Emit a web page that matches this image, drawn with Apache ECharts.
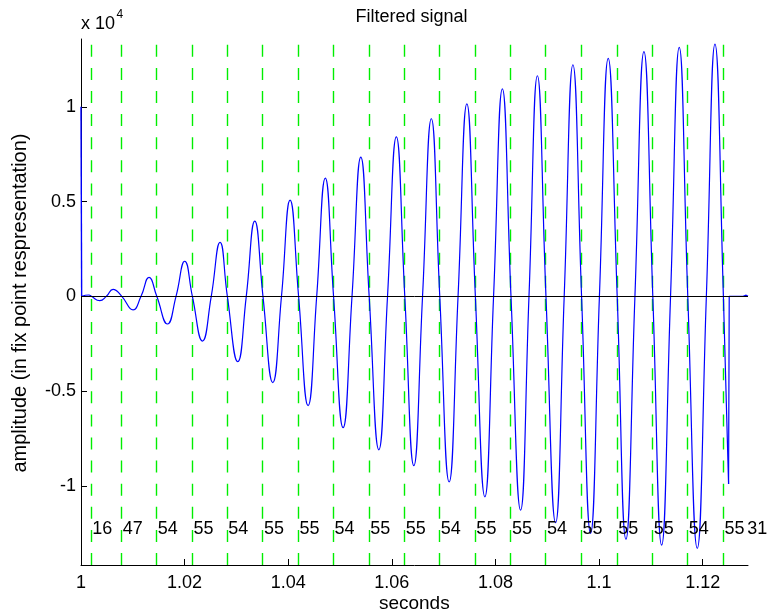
<!DOCTYPE html>
<html><head><meta charset="utf-8">
<script src="https://cdn.jsdelivr.net/npm/echarts@6/dist/echarts.min.js"></script>
<style>html,body{margin:0;padding:0;background:#fff}#c{width:770px;height:614px}</style>
</head><body><div id="c"></div>
<script>
// filtered signal: extrema and zero crossings (seconds, raw amplitude)
const waveT = [1.000125, 1.001545, 1.002, 1.003611, 1.004905, 1.00618, 1.007875, 1.010042, 1.011587, 1.013131, 1.014625, 1.016685, 1.018345, 1.020026, 1.0215, 1.023444, 1.025143, 1.026842, 1.02825, 1.03026, 1.031902, 1.033543, 1.035125, 1.037019, 1.038699, 1.04036, 1.042, 1.043836, 1.045497, 1.047157, 1.04875, 1.050595, 1.052314, 1.054013, 1.055625, 1.057489, 1.059169, 1.060868, 1.0625, 1.064248, 1.065928, 1.067627, 1.06925, 1.071064, 1.072783, 1.074482, 1.076125, 1.077959, 1.079639, 1.081338, 1.083, 1.084852, 1.086475, 1.088097, 1.08975, 1.091611, 1.093272, 1.094952, 1.096625, 1.09837, 1.10007, 1.101769, 1.1035, 1.105187, 1.106925, 1.108663, 1.110375, 1.112081, 1.1138, 1.11548, 1.117125, 1.118956, 1.120713, 1.122374, 1.124, 1.125];
const waveV = [0, 70, 0, -230, 0, 370, 0, -720, 0, 1000, 0, -1460, 0, 1850, 0, -2360, 0, 2850, 0, -3450, 0, 3970, 0, -4550, 0, 5080, 0, -5770, 0, 6240, 0, -6930, 0, 7350, 0, -8100, 0, 8410, 0, -8940, 0, 9370, 0, -9790, 0, 10160, 0, -10580, 0, 10950, 0, -11280, 0, 11640, 0, -11950, 0, 12220, 0, -12510, 0, 12560, 0, -12820, 0, 12910, 0, -13130, 0, 13140, 0, -13300, 0, 13310, 0, -9900];
// sharp edges at the start and end of the signal
const spikeT = [1.0, 1.000125];
const spikeV = [10000, 0];
const tailT = [1.125, 1.125125, 1.1278, 1.1284, 1.12875];
const tailV = [-9900, 0, 0, 60, 0];
// period markers (green dashed lines) and sample counts
const markerT = [1.002, 1.007875, 1.014625, 1.0215, 1.02825, 1.035125, 1.042, 1.04875, 1.055625, 1.0625, 1.06925, 1.076125, 1.083, 1.08975, 1.096625, 1.1035, 1.110375, 1.117125, 1.124];
const countText = ['16', '47', '54', '55', '54', '55', '55', '54', '55', '55', '54', '55', '55', '54', '55', '55', '55', '54', '55', '31'];
const countT = markerT.concat([1.1284]);
// axes
const xTicks = [1, 1.02, 1.04, 1.06, 1.08, 1.1, 1.12];
const xTickLabels = ['1', '1.02', '1.04', '1.06', '1.08', '1.1', '1.12'];
const yTicks = [-10000, -5000, 0, 5000, 10000];
const yTickLabels = ['-1', '-0.5', '0', '0.5', '1'];
const xMin = 1, xMax = 1.12875, yMin = -14180, yMax = 13580;

const FONT = '"Liberation Sans", Arial, Helvetica, sans-serif';
const zip = (a, b) => a.map((v, i) => [v, b[i]]);
const lookup = (ticks, labels) => v => {
  const i = ticks.findIndex(t => Math.abs(t - v) < 1e-7);
  return i >= 0 ? labels[i] : '';
};
const countY = -12300;

const chart = echarts.init(document.getElementById('c'), null, {renderer: 'canvas'});
chart.setOption({
  animation: false,
  backgroundColor: '#ffffff',
  grid: {left: 81, right: 22, top: 39, bottom: 49, containLabel: false, outerBoundsMode: 'none'},
  xAxis: {
    type: 'value', min: xMin, max: xMax,
    axisLine: {show: true, onZero: false, lineStyle: {color: '#000', width: 1}},
    axisTick: {show: true, inside: true, length: 6, customValues: xTicks, lineStyle: {color: '#000'}},
    axisLabel: {show: true, customValues: xTicks, formatter: lookup(xTicks, xTickLabels),
      margin: 18, verticalAlign: 'middle', color: '#000', fontSize: 18, fontFamily: FONT},
    splitLine: {show: false}
  },
  yAxis: {
    type: 'value', min: yMin, max: yMax,
    axisLine: {show: true, onZero: false, lineStyle: {color: '#000', width: 1}},
    axisTick: {show: true, inside: true, length: 6, customValues: yTicks, lineStyle: {color: '#000'}},
    axisLabel: {show: true, customValues: yTicks, formatter: lookup(yTicks, yTickLabels),
      margin: 5, color: '#000', fontSize: 18, fontFamily: FONT},
    splitLine: {show: false}
  },
  series: [
    {
      type: 'line', data: zip(waveT, waveV), smooth: 0.5, showSymbol: false, z: 3,
      lineStyle: {color: '#0000ff', width: 1.2}
    },
    {
      type: 'line', data: zip(spikeT, spikeV), showSymbol: false, z: 3,
      lineStyle: {color: '#0000ff', width: 1.4}
    },
    {
      type: 'line', data: zip(tailT, tailV), showSymbol: false, z: 3,
      lineStyle: {color: '#0000ff', width: 1.2},
      markLine: {
        silent: true, symbol: ['none', 'none'], label: {show: false}, z: 5, precision: 8,
        lineStyle: {color: '#000', width: 1, type: 'solid'},
        emphasis: {disabled: true},
        data: [{yAxis: 0}]
      }
    },
    {
      type: 'custom', z: 2, silent: true, clip: false,
      data: markerT.map(t => [t, 0]),
      encode: {x: 0, y: 1},
      renderItem: (params, api) => {
        const t = api.value(0);
        const p0 = api.coord([t, yMin]);
        const p1 = api.coord([t, yMax]);
        const x = Math.floor(p0[0]) + 0.5;
        return {type: 'line', silent: true,
          shape: {x1: x, y1: p0[1], x2: x, y2: p1[1]},
          style: {stroke: '#00ee00', lineWidth: 1.4, lineDash: [12, 11.1], fill: null}};
      }
    },
    {
      type: 'custom', z: 6, silent: true, clip: false,
      data: countT.map(t => [t, countY]),
      encode: {x: 0, y: 1},
      renderItem: (params, api) => {
        const p = api.coord([api.value(0), api.value(1)]);
        return {type: 'text', silent: true, x: p[0] + 1, y: p[1],
          style: {text: countText[params.dataIndex], fill: '#000', fontSize: 18, fontFamily: FONT,
            align: 'left', verticalAlign: 'middle'}};
      }
    }
  ],
  graphic: [
    {type: 'text', x: 411.5, y: 17, style: {text: 'Filtered signal', fontSize: 18, fontFamily: FONT, fill: '#000', align: 'center', verticalAlign: 'middle'}},
    {type: 'text', x: 414.3, y: 603.3, style: {text: 'seconds', fontSize: 19, fontFamily: FONT, fill: '#000', align: 'center', verticalAlign: 'middle'}},
    {type: 'text', x: 20, y: 303, rotation: Math.PI / 2, style: {text: 'amplitude (in fix point respresentation)', fontSize: 20, fontFamily: FONT, fill: '#000', align: 'center', verticalAlign: 'middle'}},
    {type: 'text', x: 81, y: 24, style: {text: 'x 10', fontSize: 18, fontFamily: FONT, fill: '#000', align: 'left', verticalAlign: 'middle'}},
    {type: 'text', x: 116.5, y: 14.5, style: {text: '4', fontSize: 12, fontFamily: FONT, fill: '#000', align: 'left', verticalAlign: 'middle'}}
  ]
});
</script>
</body></html>
